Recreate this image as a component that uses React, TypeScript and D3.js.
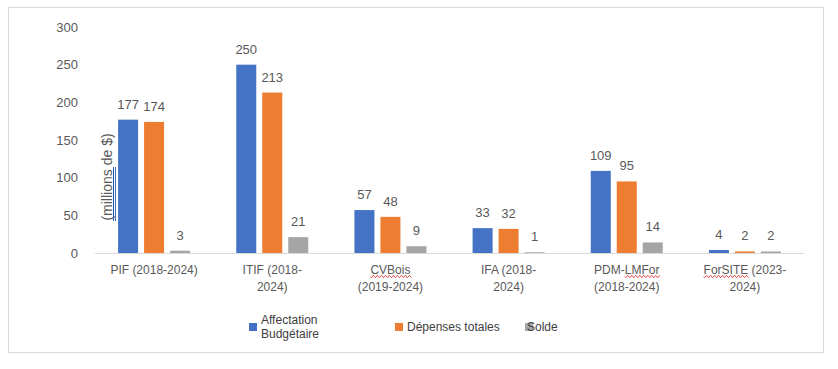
import React, { useEffect, useRef } from "react";
import * as d3 from "d3";

const categories = [
  ["PIF (2018-2024)"],
  ["ITIF (2018-", "2024)"],
  ["CVBois", "(2019-2024)"],
  ["IFA (2018-", "2024)"],
  ["PDM-LMFor", "(2018-2024)"],
  ["ForSITE (2023-", "2024)"],
];
const misspelled = ["CVBois", "LMFor", "ForSITE"];
const seriesNames = ["Affectation Budgétaire", "Dépenses totales", "Solde"];
const affectation = [177, 250, 57, 33, 109, 4];
const depenses = [174, 213, 48, 32, 95, 2];
const solde = [3, 21, 9, 1, 14, 2];
const yTicks = [0, 50, 100, 150, 200, 250, 300];
const colors = ["#4472C4", "#ED7D31", "#A5A5A5"];

const FONT = "'Liberation Sans', Arial, sans-serif";
const TEXT = "#595959";

const App = () => {
  const ref = useRef<SVGSVGElement>(null);

  useEffect(() => {
    const svg: any = d3.select(ref.current);
    svg.selectAll("*").remove();

    // outer frame
    svg
      .append("rect")
      .attr("x", 8.5)
      .attr("y", 7.5)
      .attr("width", 815)
      .attr("height", 345)
      .attr("fill", "#fff")
      .attr("stroke", "#D9D9D9");

    const left = 95;
    const right = 804;
    const top = 27;
    const bottom = 253;

    const keys = categories.map((c) => c.join(" "));
    const x = d3.scaleBand().domain(keys).range([left, right]).padding(0);
    const inner = d3
      .scaleBand()
      .domain(["0", "1", "2"])
      .range([0, 72])
      .paddingInner(0.23);
    const y = d3.scaleLinear().domain([0, 300]).range([bottom, top]);

    // y axis labels
    const yAxis = svg
      .append("g")
      .attr("transform", "translate(78,0)")
      .call(d3.axisLeft(y).tickValues(yTicks).tickSize(0).tickPadding(0));
    yAxis.select(".domain").remove();
    yAxis
      .selectAll("text")
      .attr("fill", TEXT)
      .style("font-family", FONT)
      .style("font-size", "13px");

    // baseline
    svg
      .append("line")
      .attr("x1", left)
      .attr("x2", right)
      .attr("y1", y(0) + 0.5)
      .attr("y2", y(0) + 0.5)
      .attr("stroke", "#D9D9D9");

    const series = [affectation, depenses, solde];
    series.forEach((vals, si) => {
      const g = svg.append("g");
      g.selectAll("rect")
        .data(vals)
        .enter()
        .append("rect")
        .attr("x", (d: number, i: number) => (x(keys[i]) as number) + x.bandwidth() / 2 - 36 + (inner(String(si)) as number))
        .attr("y", (d: number) => y(d))
        .attr("width", inner.bandwidth())
        .attr("height", (d: number) => bottom - y(d))
        .attr("fill", colors[si]);
      g.selectAll("text")
        .data(vals)
        .enter()
        .append("text")
        .attr("x", (d: number, i: number) => (x(keys[i]) as number) + x.bandwidth() / 2 - 36 + (inner(String(si)) as number) + inner.bandwidth() / 2)
        .attr("y", (d: number) => y(d) - 11)
        .attr("text-anchor", "middle")
        .attr("fill", TEXT)
        .style("font-family", FONT)
        .style("font-size", "13px")
        .text((d: number) => d);
    });

    // category labels
    categories.forEach((lines, i) => {
      const cx = (x(keys[i]) as number) + x.bandwidth() / 2;
      lines.forEach((line, li) => {
        const t = svg
          .append("text")
          .attr("x", cx)
          .attr("y", 274 + li * 17)
          .attr("text-anchor", "middle")
          .attr("fill", TEXT)
          .style("font-family", FONT)
          .style("font-size", "12px")
          .text(line);
        misspelled.forEach((w) => {
          const idx = line.indexOf(w);
          if (idx < 0) return;
          const node = t.node() as SVGTextElement;
          const total = node.getComputedTextLength();
          const start = cx - total / 2 + (idx > 0 ? node.getSubStringLength(0, idx) : 0);
          const len = node.getSubStringLength(idx, w.length);
          const yy = 274 + li * 17 + 2.5;
          let p = `M${start},${yy}`;
          for (let k = 0; k * 2 < len; k++) {
            p += ` L${start + k * 2 + 1},${yy + (k % 2 === 0 ? 1.2 : -1.2)}`;
          }
          svg.append("path").attr("d", p).attr("fill", "none").attr("stroke", "#E02020").attr("stroke-width", 0.8);
        });
      });
    });

    // y axis title
    svg
      .append("text")
      .attr("transform", "translate(112,177) rotate(-90)")
      .attr("text-anchor", "middle")
      .attr("fill", TEXT)
      .style("font-family", FONT)
      .style("font-size", "14px")
      .text("(millions de $)");
    svg.append("line").attr("x1", 113.5).attr("x2", 113.5).attr("y1", 167).attr("y2", 221).attr("stroke", "#2F55A4");
    svg.append("line").attr("x1", 115.5).attr("x2", 115.5).attr("y1", 167).attr("y2", 221).attr("stroke", "#4472C4");

    // legend
    const legend = [
      { x: 249, lines: ["Affectation", "Budgétaire"], tx: 261 },
      { x: 395, lines: ["Dépenses totales"], tx: 407 },
      { x: 525, lines: ["Solde"], tx: 527 },
    ];
    legend.forEach((l, i) => {
      svg
        .append("rect")
        .attr("x", l.x)
        .attr("y", 323)
        .attr("width", 8)
        .attr("height", 8)
        .attr("fill", colors[i])
        .append("title")
        .text(seriesNames[i]);
      l.lines.forEach((line, li) => {
        svg
          .append("text")
          .attr("x", l.tx)
          .attr("y", l.lines.length > 1 ? 324 + li * 14 : 331)
          .attr("fill", "#404040")
          .style("font-family", FONT)
          .style("font-size", "12px")
          .text(line);
      });
    });
  }, []);

  return (
    <svg
      ref={ref}
      width={838}
      height={369}
      style={{ position: "absolute", left: 0, top: 0, background: "#fff" }}
    />
  );
};

export default App;
